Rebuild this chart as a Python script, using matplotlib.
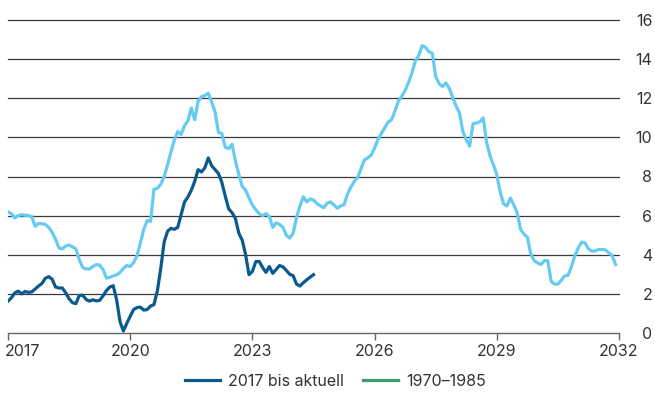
import matplotlib
matplotlib.use("Agg")
import matplotlib.pyplot as plt
from matplotlib.lines import Line2D
from matplotlib.transforms import ScaledTranslation
import numpy as np

plt.rcParams["font.family"] = ["Inter", "DejaVu Sans"]

# monthly values, both series aligned to start in Jan 2017
START_YEAR = 2017
CURRENT = [
    1.63, 1.80, 2.05, 2.14, 2.00, 2.12, 2.08, 2.10, 2.25, 2.40, 2.53, 2.80,
    2.88, 2.75, 2.35, 2.30, 2.30, 2.05, 1.75, 1.55, 1.50, 1.92, 1.93, 1.72,
    1.63, 1.70, 1.64, 1.67, 1.90, 2.17, 2.35, 2.42, 1.70, 0.58, 0.10, 0.50,
    0.85, 1.20, 1.30, 1.32, 1.17, 1.20, 1.38, 1.45, 2.15, 3.30, 4.65, 5.20,
    5.35, 5.30, 5.40, 6.05, 6.70, 6.95, 7.30, 7.75, 8.35, 8.23, 8.45, 8.95,
    8.55, 8.35, 8.15, 7.70, 7.00, 6.35, 6.15, 5.85, 5.10, 4.75, 4.00, 2.98,
    3.15, 3.65, 3.66, 3.35, 3.10, 3.40, 3.05, 3.25, 3.45, 3.38, 3.20, 3.00,
    2.93, 2.50, 2.40, 2.57, 2.72, 2.85, 2.98,
]
HIST_1970 = [
    6.19, 6.10, 5.88, 6.00, 6.05, 6.02, 6.00, 5.95, 5.45, 5.60, 5.58, 5.55,
    5.40, 5.15, 4.80, 4.35, 4.30, 4.45, 4.50, 4.40, 4.30, 3.75, 3.35, 3.27,
    3.28, 3.40, 3.50, 3.47, 3.25, 2.80, 2.85, 2.92, 2.97, 3.10, 3.30, 3.45,
    3.40, 3.60, 3.95, 4.60, 5.30, 5.75, 5.70, 7.35, 7.40, 7.60, 8.00, 8.60,
    9.25, 9.85, 10.30, 10.15, 10.60, 10.85, 11.50, 10.90, 11.85, 12.08, 12.14, 12.26,
    11.80, 11.30, 10.25, 10.20, 9.50, 9.42, 9.65, 8.80, 8.10, 7.50, 7.30, 6.90,
    6.55, 6.30, 6.10, 6.00, 6.10, 5.95, 5.40, 5.63, 5.55, 5.40, 5.00, 4.85,
    5.10, 5.90, 6.50, 6.96, 6.70, 6.85, 6.80, 6.62, 6.50, 6.40, 6.64, 6.70,
    6.55, 6.38, 6.50, 6.55, 7.10, 7.45, 7.75, 7.95, 8.40, 8.85, 8.95, 9.10,
    9.45, 9.90, 10.20, 10.50, 10.78, 10.90, 11.35, 11.85, 12.10, 12.40, 12.80, 13.30,
    13.90, 14.20, 14.69, 14.60, 14.38, 14.30, 13.10, 12.75, 12.60, 12.78, 12.50, 12.05,
    11.60, 11.25, 10.30, 9.87, 9.55, 10.70, 10.73, 10.80, 11.00, 9.75, 9.05, 8.60,
    8.10, 7.20, 6.60, 6.50, 6.90, 6.55, 6.15, 5.30, 5.05, 4.90, 4.05, 3.70,
    3.58, 3.50, 3.70, 3.70, 2.65, 2.50, 2.50, 2.70, 2.92, 2.95, 3.40, 3.95,
    4.35, 4.65, 4.60, 4.30, 4.18, 4.20, 4.27, 4.27, 4.25, 4.10, 3.95, 3.50,
]
LABELS = ["2017 bis aktuell", "1970\u20131985"]
X_TICKS = [2017, 2020, 2023, 2026, 2029, 2032]
Y_TICKS = [0, 2, 4, 6, 8, 10, 12, 14, 16]

DARK = "#0b5a8e"
LIGHT = "#66cbf2"
LEGEND_GREEN = "#3a9a70"
TXT = "#333333"

x_cur = START_YEAR + np.arange(len(CURRENT)) / 12
x_hist = START_YEAR + np.arange(len(HIST_1970)) / 12

fig = plt.figure(figsize=(6.55, 3.94), dpi=100)
ax = fig.add_axes([8 / 655, 61 / 394, 611 / 655, 313 / 394])

for v in Y_TICKS[1:]:
    ax.axhline(v, color="#3a3a3a", lw=0.9, zorder=1, clip_on=False)

ax.plot(x_hist, HIST_1970, color=LIGHT, lw=2.3, zorder=3, solid_joinstyle="round")
ax.plot(x_cur, CURRENT, color=DARK, lw=2.3, zorder=4, solid_joinstyle="round")

ax.set_xlim(2017, 2032)
ax.set_ylim(0, 16)
for s in ["top", "left", "right"]:
    ax.spines[s].set_visible(False)
ax.spines["bottom"].set_color("#666666")
ax.spines["bottom"].set_linewidth(1.0)

ax.set_xticks(X_TICKS)
ax.set_xticklabels([str(t) for t in X_TICKS])
ax.tick_params(axis="x", direction="out", length=5, width=1.0, color="#666666",
               labelsize=11.5, labelcolor=TXT, pad=3)
# first year label sits flush with the left edge, as in the original
first = ax.get_xticklabels()[0]
first.set_horizontalalignment("left")
first.set_transform(first.get_transform() + ScaledTranslation(-3 / 100, 0, fig.dpi_scale_trans))

ax.yaxis.tick_right()
ax.set_yticks(Y_TICKS)
ax.tick_params(axis="y", length=0, labelsize=11.5, labelcolor=TXT, pad=24)
for lab in ax.get_yticklabels():
    lab.set_horizontalalignment("right")

handles = [
    Line2D([0], [0], color=DARK, lw=2.3),
    Line2D([0], [0], color=LEGEND_GREEN, lw=2.3),
]
fig.legend(handles, LABELS, loc="lower center", bbox_to_anchor=(0.512, -0.023),
           ncol=2, frameon=False, fontsize=11.5, handlelength=2.2,
           handletextpad=0.5, columnspacing=1.2, labelcolor=TXT)

fig.savefig("out.png", dpi=100)
